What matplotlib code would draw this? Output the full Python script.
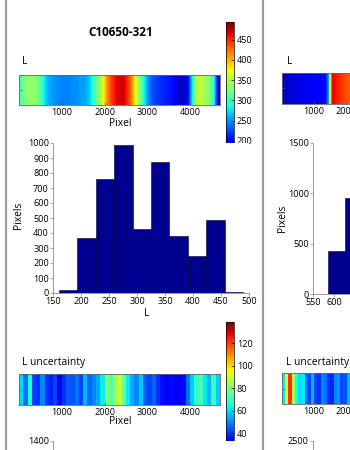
import numpy as np
import matplotlib
matplotlib.use("Agg")
import matplotlib.pyplot as plt
from matplotlib.lines import Line2D

W, H = 350, 450

# L along the slit, one value per 100 pixels (left sample)
l_strip_left = [310, 330, 335, 335, 325, 295, 265, 255, 250, 245,
                245, 245, 248, 250, 255, 255, 270, 300, 330, 360,
                410, 440, 460, 470, 470, 445, 410, 360, 320, 275,
                240, 225, 220, 215, 210, 210, 195, 180, 180, 200,
                280, 350, 355, 340, 330, 300, 190]
# L uncertainty, one value per 100 pixels (left sample)
unc_strip_left = [60, 48, 65, 42, 40, 50, 40, 38, 42, 32,
                  40, 45, 44, 48, 42, 56, 46, 50, 54, 62,
                  80, 72, 84, 90, 76, 62, 55, 50, 58, 45,
                  42, 46, 40, 36, 34, 35, 33, 34, 35, 48,
                  58, 68, 72, 62, 56, 70, 58]
# right sample (only the first ~2200 pixels are in view)
l_strip_right = [590, 588, 595, 592, 600, 598, 605, 602, 608, 610, 606,
                 612, 615, 620, 690, 960, 955, 945, 935, 925, 920, 915]
unc_strip_right = [62, 95, 122, 85, 65, 60, 62, 48, 42, 56, 42,
                   40, 50, 48, 40, 38, 50, 52, 42, 44, 56, 50]

hist_edges_left = [160, 193, 226, 259, 292, 325, 358, 391, 424, 457, 490]
hist_counts_left = [17, 369, 761, 987, 427, 872, 382, 248, 487, 5]
hist_edges_right = [586, 626, 666]
hist_counts_right = [430, 953]

plt.rcParams["font.family"] = ["Open Sans", "DejaVu Sans"]
TICK_FS = 6.6
LABEL_FS = 7.4
GRAY = "#9a9a9a"
BAR = "#00008f"


def rect(x0, y0, x1, y1):
    return [x0 / W, 1 - y1 / H, (x1 - x0) / W, (y1 - y0) / H]


def ftext(x, y, s, **kw):
    fig.text(x / W, 1 - y / H, s, **kw)


def strip(r, vals, vmin, vmax, xmax, xticks, interp):
    ax = fig.add_axes(rect(*r))
    n = len(vals)
    im = ax.imshow(np.array(vals, dtype=float)[None, :], aspect="auto",
                   cmap="jet", vmin=vmin, vmax=vmax, interpolation=interp,
                   extent=[0, n * 100, 0, 1])
    ax.set_xticks(xticks)
    ax.set_yticks([0.5])
    ax.set_yticklabels([])
    ax.set_xlim(0, xmax)
    ax.set_ylim(0, 1)
    ax.tick_params(direction="in", length=2, width=0.5, labelsize=TICK_FS,
                   pad=2, colors="#555555", labelcolor="black")
    for s in ax.spines.values():
        s.set_linewidth(0.6)
        s.set_color("#666666")
    return ax, im


def hist(r, edges, counts, xlim, xticks, ylim, yticks):
    ax = fig.add_axes(rect(*r))
    e = np.array(edges, dtype=float)
    if len(counts):
        ax.bar(e[:-1], counts, width=np.diff(e), align="edge", color=BAR,
               edgecolor="#000033", linewidth=0.4)
    ax.set_xticks(xticks)
    ax.set_yticks(yticks)
    ax.set_xlim(*xlim)
    ax.set_ylim(*ylim)
    for side in ("top", "right"):
        ax.spines[side].set_visible(False)
    for side in ("left", "bottom"):
        ax.spines[side].set_color(GRAY)
        ax.spines[side].set_linewidth(0.7)
    ax.tick_params(direction="out", length=2, width=0.6, colors=GRAY,
                   labelcolor="black", labelsize=TICK_FS, pad=1)
    return ax


fig = plt.figure(figsize=(W / 100, H / 100), dpi=100)

# panel separators
for x in (5.5, 263):
    fig.add_artist(Line2D([x / W, x / W], [0, 1], color=GRAY, lw=1.6))

ftext(121, 33, "C10650-321", ha="center", va="center", fontsize=8.5,
      fontweight="bold")

# ---- left sample ----
ax1, im1 = strip((19, 75, 220, 105), l_strip_left, 160, 494, 4700,
                 [1000, 2000, 3000, 4000], "bilinear")
ftext(22.5, 62, "L", ha="left", va="center", fontsize=LABEL_FS)
ftext(120, 123, "Pixel", ha="center", va="center", fontsize=LABEL_FS)
cax1 = fig.add_axes(rect(226, 22, 234, 157))
cb1 = fig.colorbar(im1, cax=cax1, ticks=[200, 250, 300, 350, 400, 450])
cb1.ax.tick_params(direction="in", length=2, width=0.5, labelsize=TICK_FS,
                   pad=2)
cb1.outline.set_linewidth(0.5)

hist((53, 143, 249, 293), hist_edges_left, hist_counts_left,
     (150, 500), range(150, 501, 50), (0, 1000), range(0, 1001, 100))
ftext(19, 215, "Pixels", ha="center", va="center", rotation=90,
      fontsize=LABEL_FS)
ftext(147, 313, "L", ha="center", va="center", fontsize=LABEL_FS)

ax2, im2 = strip((19, 374, 220, 405), unc_strip_left, 19, 139, 4700,
                 [1000, 2000, 3000, 4000], "nearest")
ftext(22.5, 363, "L uncertainty", ha="left", va="center", fontsize=LABEL_FS)
ftext(120, 421, "Pixel", ha="center", va="center", fontsize=LABEL_FS)
cax2 = fig.add_axes(rect(226, 322, 234, 457))
cb2 = fig.colorbar(im2, cax=cax2, ticks=[40, 60, 80, 100, 120])
cb2.ax.tick_params(direction="in", length=2, width=0.5, labelsize=TICK_FS,
                   pad=2)
cb2.outline.set_linewidth(0.5)

# next row of histograms, only their top edge is inside the crop
hist((53, 441, 249, 592), [], [], (0, 1), [], (0, 1400), [1400])

# ---- right sample (cut by the crop) ----
strip((282, 73, 483, 104), l_strip_right, 560, 1000, 6300,
      [1000, 2000], "bilinear")
ftext(287, 62, "L", ha="left", va="center", fontsize=LABEL_FS)
hist((313, 143, 509, 294), hist_edges_right, hist_counts_right,
     (550, 1015), [550, 600], (0, 1500), range(0, 1501, 500))
ftext(282, 218, "Pixels", ha="center", va="center", rotation=90,
      fontsize=LABEL_FS)
strip((282, 373, 483, 404), unc_strip_right, 19, 139, 6300,
      [1000, 2000], "nearest")
ftext(286, 362, "L uncertainty", ha="left", va="center", fontsize=LABEL_FS)
hist((313, 441, 509, 592), [], [], (0, 1), [], (0, 2500), [2500])

fig.savefig("out.png", dpi=100)
